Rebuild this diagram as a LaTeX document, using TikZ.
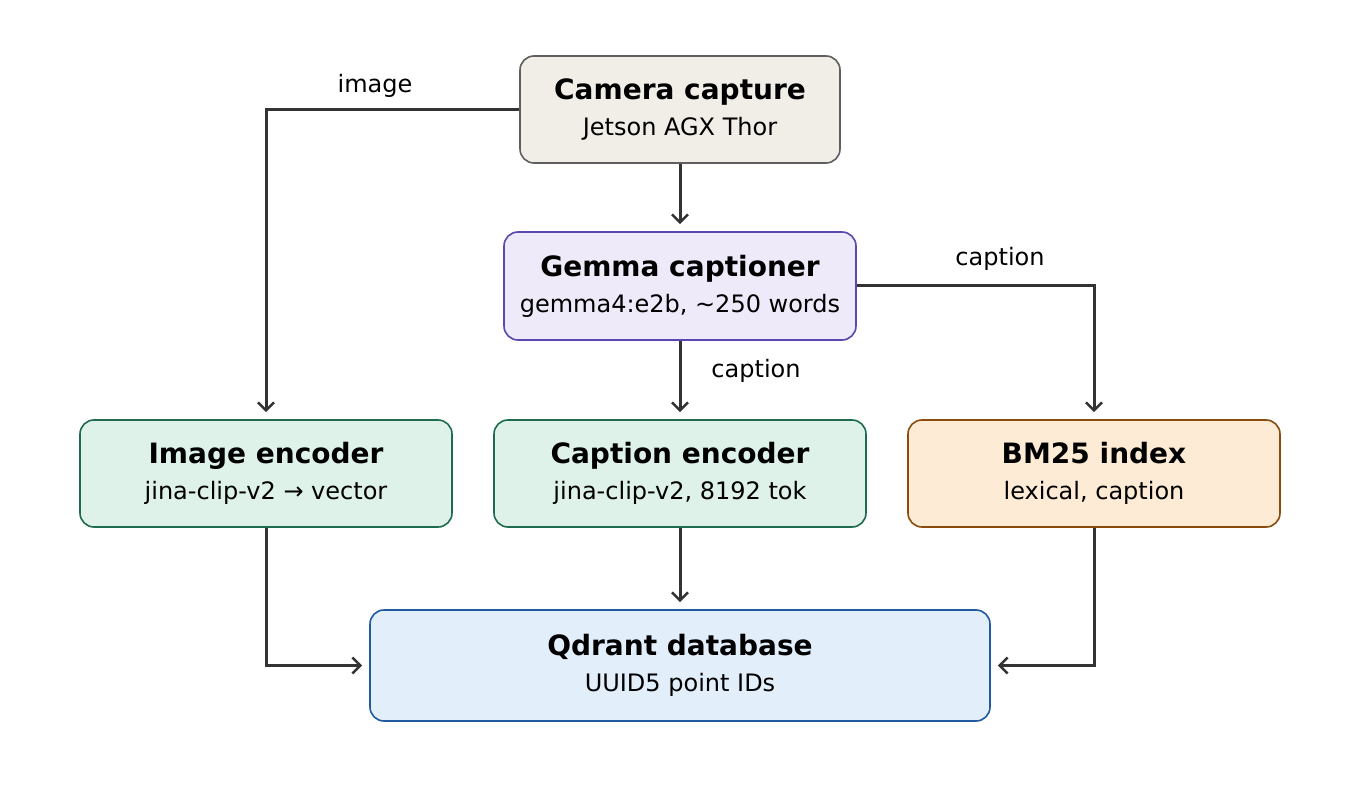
\documentclass[tikz,border=0pt]{standalone}
\usepackage{fontspec}
\setmainfont{DejaVu Sans}
\usetikzlibrary{arrows.meta}
\definecolor{camF}{HTML}{F1EEE7}\definecolor{camD}{HTML}{5E5E5E}
\definecolor{gemF}{HTML}{EEEAFA}\definecolor{gemD}{HTML}{5A48B0}
\definecolor{encF}{HTML}{DEF2EA}\definecolor{encD}{HTML}{1E6B4E}
\definecolor{bmF}{HTML}{FDEBD5}\definecolor{bmD}{HTML}{8A4B0E}
\definecolor{qdF}{HTML}{E2EEFA}\definecolor{qdD}{HTML}{1E5A9C}
\definecolor{ln}{HTML}{333333}
\newcommand{\bx}[2]{{\fontsize{28}{36}\selectfont\bfseries #1}\\{\fontsize{24}{36}\selectfont #2}}
\begin{document}
\begin{tikzpicture}[x=1pt,y=-1pt,
 box/.style={draw,line width=1.6pt,rounded corners=14pt,align=center,inner sep=0pt,font=\fontsize{24}{36}\selectfont},
 arr/.style={draw=ln,line width=3pt,-{Straight Barb[length=8pt,width=16pt,line width=2.6pt]},shorten >=7pt},
 lab/.style={font=\fontsize{24}{28}\selectfont}]
\useasboundingbox (0,0) rectangle (1360,810);
\node[box,fill=camF,draw=camD,minimum width=320pt,minimum height=107pt] (cam) at (680,109.5) {\bx{Camera capture}{Jetson AGX Thor}};
\node[box,fill=gemF,draw=gemD,minimum width=352pt,minimum height=108pt] (gem) at (680,286) {\bx{Gemma captioner}{gemma4:e2b, \textasciitilde250 words}};
\node[box,fill=encF,draw=encD,minimum width=372pt,minimum height=107pt] (ie) at (266,473.5) {\bx{Image encoder}{jina-clip-v2 → vector}};
\node[box,fill=encF,draw=encD,minimum width=372pt,minimum height=107pt] (ce) at (680,473.5) {\bx{Caption encoder}{jina-clip-v2, 8192 tok}};
\node[box,fill=bmF,draw=bmD,minimum width=372pt,minimum height=107pt] (bm) at (1094,473.5) {\bx{BM25 index}{lexical, caption}};
\node[box,fill=qdF,draw=qdD,minimum width=620pt,minimum height=111pt] (qd) at (680,665.5) {\bx{Qdrant database}{UUID5 point IDs}};
\draw[arr] (cam.west) -| (ie.north);
\draw[arr] (cam.south) -- (gem.north);
\draw[arr] (gem.south) -- (ce.north);
\draw[arr] (gem.east) -| (bm.north);
\draw[arr] (ie.south) |- (qd.west);
\draw[arr] (ce.south) -- (qd.north);
\draw[arr] (bm.south) |- (qd.east);
\node[lab] (l1) at (375,86) {image};
\node[lab] (l2) at (1000,259) {caption};
\node[lab] (l3) at (756,371) {caption};
\end{tikzpicture}
\end{document}
